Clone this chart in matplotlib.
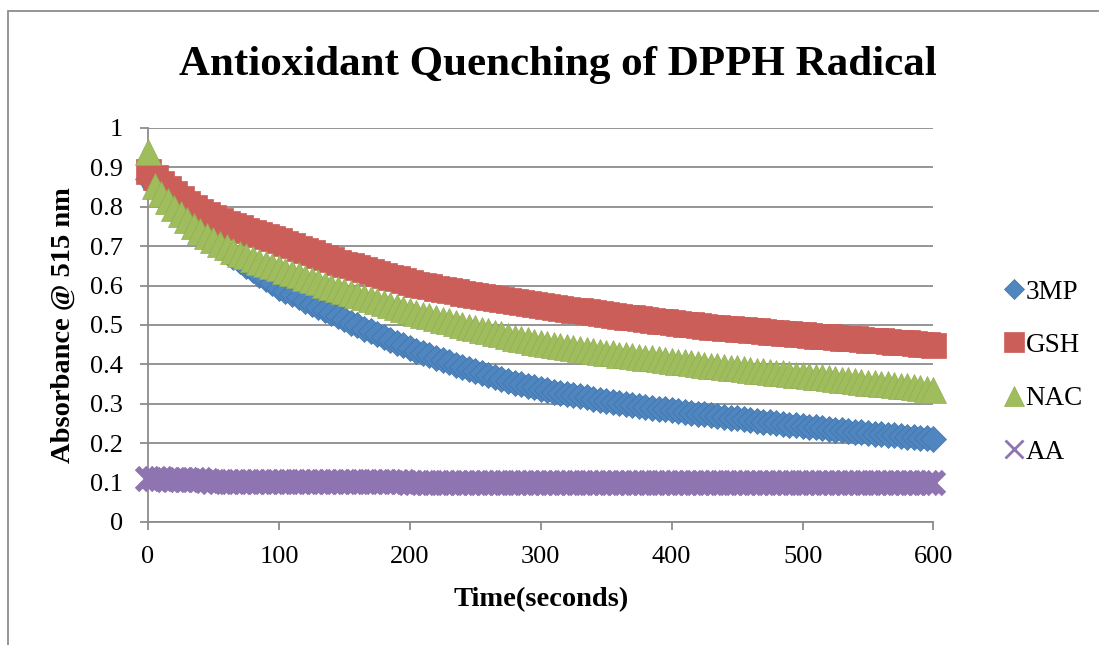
import numpy as np
import matplotlib
matplotlib.use("Agg")
import matplotlib.pyplot as plt
from matplotlib.patches import Rectangle
from matplotlib.ticker import FuncFormatter, MultipleLocator

# Time axis: one reading every 5 seconds from 0 to 600 s
time_s = np.arange(0, 601, 5)

absorbance_3mp = [
    0.870, 0.850, 0.832, 0.814, 0.797, 0.781, 0.765, 0.750, 0.736, 0.722,
    0.709, 0.697, 0.685, 0.673, 0.662, 0.650, 0.639, 0.628, 0.617, 0.606,
    0.595, 0.587, 0.578, 0.570, 0.562, 0.554, 0.546, 0.538, 0.530, 0.522,
    0.514, 0.506, 0.499, 0.491, 0.484, 0.477, 0.469, 0.462, 0.455, 0.448,
    0.441, 0.435, 0.429, 0.423, 0.417, 0.411, 0.405, 0.399, 0.394, 0.388,
    0.383, 0.378, 0.373, 0.368, 0.363, 0.359, 0.354, 0.350, 0.346, 0.342,
    0.338, 0.335, 0.331, 0.328, 0.325, 0.322, 0.319, 0.316, 0.313, 0.310,
    0.308, 0.305, 0.302, 0.300, 0.297, 0.295, 0.292, 0.290, 0.288, 0.286,
    0.284, 0.282, 0.279, 0.277, 0.275, 0.273, 0.271, 0.269, 0.267, 0.265,
    0.263, 0.261, 0.259, 0.257, 0.255, 0.253, 0.251, 0.249, 0.247, 0.245,
    0.243, 0.241, 0.240, 0.238, 0.236, 0.234, 0.233, 0.231, 0.229, 0.228,
    0.226, 0.224, 0.223, 0.221, 0.220, 0.218, 0.216, 0.215, 0.213, 0.212,
    0.210,
]

absorbance_gsh = [
    0.890, 0.875, 0.860, 0.847, 0.835, 0.822, 0.810, 0.800, 0.790, 0.782,
    0.775, 0.767, 0.760, 0.754, 0.748, 0.742, 0.737, 0.731, 0.726, 0.720,
    0.715, 0.708, 0.702, 0.696, 0.690, 0.684, 0.678, 0.672, 0.667, 0.661,
    0.656, 0.651, 0.646, 0.641, 0.636, 0.631, 0.627, 0.622, 0.618, 0.613,
    0.609, 0.605, 0.602, 0.598, 0.595, 0.591, 0.588, 0.585, 0.582, 0.579,
    0.576, 0.573, 0.571, 0.568, 0.566, 0.563, 0.561, 0.558, 0.556, 0.553,
    0.551, 0.549, 0.546, 0.544, 0.541, 0.539, 0.537, 0.535, 0.532, 0.530,
    0.528, 0.526, 0.524, 0.521, 0.519, 0.517, 0.515, 0.513, 0.511, 0.509,
    0.507, 0.505, 0.503, 0.502, 0.500, 0.498, 0.496, 0.495, 0.493, 0.492,
    0.490, 0.489, 0.487, 0.486, 0.484, 0.483, 0.482, 0.480, 0.479, 0.477,
    0.476, 0.475, 0.473, 0.472, 0.471, 0.469, 0.468, 0.467, 0.466, 0.464,
    0.463, 0.462, 0.461, 0.459, 0.458, 0.457, 0.456, 0.454, 0.453, 0.452,
    0.450,
]

absorbance_nac = [
    0.940, 0.852, 0.832, 0.814, 0.797, 0.781, 0.766, 0.752, 0.739, 0.727,
    0.716, 0.706, 0.697, 0.689, 0.681, 0.674, 0.667, 0.661, 0.655, 0.649,
    0.644, 0.638, 0.632, 0.626, 0.620, 0.614, 0.608, 0.602, 0.597, 0.591,
    0.586, 0.580, 0.575, 0.570, 0.565, 0.560, 0.555, 0.550, 0.545, 0.540,
    0.535, 0.531, 0.526, 0.522, 0.517, 0.513, 0.509, 0.504, 0.500, 0.496,
    0.492, 0.488, 0.484, 0.480, 0.476, 0.472, 0.468, 0.465, 0.461, 0.458,
    0.455, 0.452, 0.449, 0.447, 0.444, 0.442, 0.439, 0.437, 0.434, 0.432,
    0.430, 0.428, 0.425, 0.423, 0.421, 0.419, 0.417, 0.415, 0.413, 0.411,
    0.409, 0.407, 0.405, 0.403, 0.401, 0.399, 0.397, 0.395, 0.394, 0.392,
    0.390, 0.388, 0.386, 0.384, 0.383, 0.381, 0.379, 0.377, 0.375, 0.374,
    0.372, 0.370, 0.368, 0.367, 0.365, 0.363, 0.361, 0.360, 0.358, 0.356,
    0.354, 0.353, 0.351, 0.349, 0.347, 0.346, 0.344, 0.342, 0.340, 0.338,
    0.336,
]

absorbance_aa = [
    0.108, 0.108, 0.108, 0.107, 0.107, 0.107, 0.106, 0.106, 0.106, 0.104,
    0.102, 0.102, 0.101, 0.101, 0.101, 0.101, 0.101, 0.101, 0.101, 0.101,
    0.101, 0.101, 0.101, 0.101, 0.101, 0.101, 0.101, 0.101, 0.101, 0.101,
    0.101, 0.101, 0.101, 0.101, 0.101, 0.101, 0.101, 0.101, 0.101, 0.101,
    0.100, 0.100, 0.100, 0.100, 0.100, 0.100, 0.100, 0.100, 0.100, 0.100,
    0.100, 0.100, 0.100, 0.100, 0.100, 0.100, 0.100, 0.100, 0.100, 0.100,
    0.100, 0.100, 0.100, 0.100, 0.100, 0.100, 0.100, 0.100, 0.100, 0.100,
    0.100, 0.100, 0.100, 0.100, 0.100, 0.100, 0.100, 0.100, 0.100, 0.100,
    0.100, 0.100, 0.100, 0.100, 0.100, 0.100, 0.100, 0.100, 0.100, 0.100,
    0.100, 0.100, 0.100, 0.100, 0.100, 0.100, 0.100, 0.100, 0.100, 0.100,
    0.100, 0.100, 0.100, 0.100, 0.100, 0.100, 0.100, 0.100, 0.100, 0.100,
    0.100, 0.100, 0.100, 0.100, 0.100, 0.100, 0.100, 0.100, 0.100, 0.100,
    0.100,
]

series_names = ["3MP", "GSH", "NAC", "AA"]
x_ticks = [0, 100, 200, 300, 400, 500, 600]

plt.rcParams["font.family"] = ["Liberation Serif", "DejaVu Serif"]

fig = plt.figure(figsize=(10.99, 6.45), dpi=100)
ax = fig.add_axes([0.1347, 0.1907, 0.7147, 0.6109])

grid_gray = "#8c8c8c"
styles = [
    dict(marker="D", ms=13.5, color="#4F86C0", mec="#3f74ad", mew=0.5),
    dict(marker="s", ms=18.0, color="#CB5E58", mec="#CB5E58", mew=0.5),
    dict(marker="^", ms=19.0, color="#A0BD5E", mec="#90ae52", mew=0.5),
    dict(marker="x", ms=16.5, color="#8E74B0", mec="#8E74B0", mew=4.5),
]
all_values = [absorbance_3mp, absorbance_gsh, absorbance_nac, absorbance_aa]

for name, vals, st in zip(series_names, all_values, styles):
    ax.plot(time_s, vals, linestyle="none", marker=st["marker"],
            markersize=st["ms"], markerfacecolor=st["color"],
            markeredgecolor=st["mec"], markeredgewidth=st["mew"],
            clip_on=False, label=name, zorder=3)

ax.set_xlim(0, 600)
ax.set_ylim(0, 1)
ax.set_xticks(x_ticks)
ax.yaxis.set_major_locator(MultipleLocator(0.1))
ax.yaxis.set_major_formatter(FuncFormatter(lambda v, p: f"{v:g}"))

ax.grid(axis="y", color=grid_gray, linewidth=1.3, zorder=0)
ax.set_axisbelow(True)
for side in ("top", "right"):
    ax.spines[side].set_visible(False)
for side in ("left", "bottom"):
    ax.spines[side].set_color(grid_gray)
    ax.spines[side].set_linewidth(1.3)
ax.tick_params(axis="both", direction="out", length=6, width=1.3,
               color=grid_gray, labelsize=19, labelcolor="black")
ax.tick_params(axis="y", pad=12)
ax.tick_params(axis="x", pad=11)

ax.set_xlabel("Time(seconds)", fontsize=20.5, fontweight="bold", labelpad=14)
ax.set_ylabel("Absorbance @ 515 nm", fontsize=20.5, fontweight="bold", labelpad=10)

fig.text(0.508, 0.899, "Antioxidant Quenching of DPPH Radical",
         ha="center", va="center", fontsize=31, fontweight="bold")

leg = ax.legend(loc="center left", bbox_to_anchor=(0.905, 0.423),
                bbox_transform=fig.transFigure, frameon=False,
                fontsize=19.5, labelspacing=1.05, handlelength=0.6,
                handletextpad=0.15, borderaxespad=0)
for h, ms in zip(leg.legend_handles, [10, 14, 15, 13]):
    h.set_markersize(ms)
leg.legend_handles[3].set_markeredgewidth(2.0)

# Outer chart border (runs off the right and bottom edges)
fig.patches.append(Rectangle((8 / 1099, -0.1), 1.2, 1.1 - 11 / 645,
                             transform=fig.transFigure, fill=False,
                             edgecolor="#8c8c8c", linewidth=1.3))

fig.savefig("out.png", dpi=100)
